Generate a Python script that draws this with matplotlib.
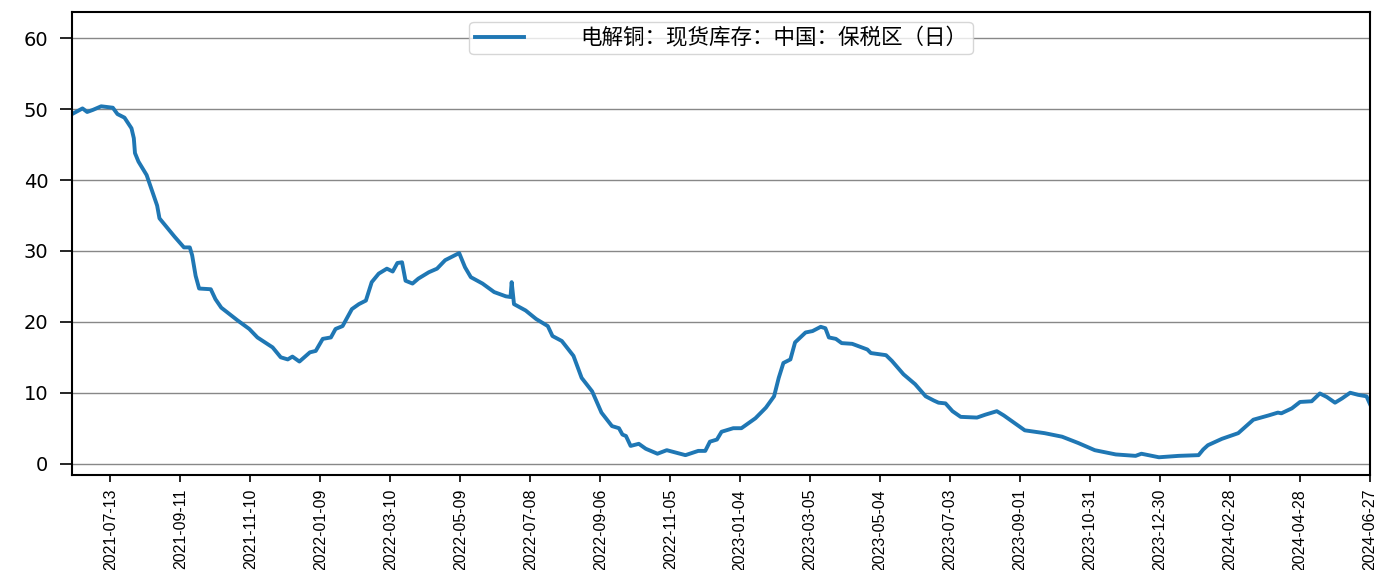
import matplotlib
matplotlib.use("Agg")
import matplotlib.pyplot as plt
from matplotlib import font_manager
import pandas as pd

series_name = "电解铜：现货库存：中国：保税区（日）"

dates = [
    "2021-06-10", "2021-06-19", "2021-06-23", "2021-06-28", "2021-07-05", "2021-07-15",
    "2021-07-19", "2021-07-25", "2021-07-31", "2021-08-02", "2021-08-03", "2021-08-06",
    "2021-08-13", "2021-08-17", "2021-08-22", "2021-08-24", "2021-08-29", "2021-09-06",
    "2021-09-14", "2021-09-19", "2021-09-21", "2021-09-24", "2021-09-27", "2021-10-07",
    "2021-10-11", "2021-10-16", "2021-10-30", "2021-11-09", "2021-11-16", "2021-11-29",
    "2021-12-06", "2021-12-12", "2021-12-16", "2021-12-22", "2021-12-31", "2022-01-05",
    "2022-01-11", "2022-01-18", "2022-01-22", "2022-01-28", "2022-02-05", "2022-02-11",
    "2022-02-17", "2022-02-22", "2022-02-28", "2022-03-07", "2022-03-12", "2022-03-16",
    "2022-03-20", "2022-03-23", "2022-03-29", "2022-04-03", "2022-04-12", "2022-04-19",
    "2022-04-26", "2022-05-08", "2022-05-13", "2022-05-18", "2022-05-28", "2022-06-07",
    "2022-06-17", "2022-06-21", "2022-06-22", "2022-06-24", "2022-07-04", "2022-07-13",
    "2022-07-23", "2022-07-27", "2022-08-04", "2022-08-14", "2022-08-21", "2022-08-30",
    "2022-09-07", "2022-09-16", "2022-09-22", "2022-09-25", "2022-09-28", "2022-10-02",
    "2022-10-09", "2022-10-15", "2022-10-25", "2022-11-02", "2022-11-18", "2022-11-29",
    "2022-12-05", "2022-12-09", "2022-12-15", "2022-12-19", "2022-12-29", "2023-01-05",
    "2023-01-17", "2023-01-26", "2023-02-02", "2023-02-06", "2023-02-10", "2023-02-16",
    "2023-02-20", "2023-03-01", "2023-03-07", "2023-03-14", "2023-03-18", "2023-03-21",
    "2023-03-27", "2023-04-01", "2023-04-10", "2023-04-23", "2023-04-26", "2023-05-09",
    "2023-05-14", "2023-05-24", "2023-06-03", "2023-06-12", "2023-06-19", "2023-06-23",
    "2023-06-29", "2023-07-05", "2023-07-12", "2023-07-26", "2023-08-02", "2023-08-12",
    "2023-08-18", "2023-08-24", "2023-09-05", "2023-09-22", "2023-10-07", "2023-10-21",
    "2023-11-04", "2023-11-22", "2023-12-09", "2023-12-14", "2023-12-29", "2024-01-15",
    "2024-02-01", "2024-02-05", "2024-02-09", "2024-02-21", "2024-03-06", "2024-03-19",
    "2024-04-01", "2024-04-09", "2024-04-12", "2024-04-21", "2024-04-28", "2024-05-08",
    "2024-05-15", "2024-05-21", "2024-05-28", "2024-06-03", "2024-06-10", "2024-06-17",
    "2024-06-24", "2024-06-27",
]

values = [
    49.3, 50.1, 49.6, 49.9, 50.4, 50.2,
    49.3, 48.8, 47.3, 45.9, 43.8, 42.6,
    40.7, 38.8, 36.4, 34.6, 33.6, 32.0,
    30.5, 30.5, 29.4, 26.5, 24.7, 24.6,
    23.2, 22.0, 20.2, 19.0, 17.8, 16.4,
    15.0, 14.7, 15.1, 14.4, 15.7, 15.9,
    17.6, 17.8, 19.0, 19.4, 21.8, 22.5,
    23.0, 25.6, 26.8, 27.5, 27.1, 28.3,
    28.4, 25.8, 25.4, 26.1, 27.0, 27.5,
    28.7, 29.7, 27.7, 26.3, 25.4, 24.2,
    23.6, 23.5, 25.6, 22.5, 21.6, 20.4,
    19.4, 18.0, 17.3, 15.2, 12.1, 10.2,
    7.2, 5.3, 5.0, 4.1, 3.9, 2.5,
    2.8, 2.1, 1.4, 1.9, 1.2, 1.8,
    1.8, 3.1, 3.4, 4.5, 5.0, 5.0,
    6.4, 7.9, 9.5, 12.1, 14.2, 14.7,
    17.1, 18.5, 18.7, 19.3, 19.1, 17.8,
    17.6, 17.0, 16.9, 16.1, 15.6, 15.3,
    14.5, 12.6, 11.2, 9.5, 8.9, 8.6,
    8.5, 7.4, 6.6, 6.5, 6.9, 7.4,
    6.8, 6.1, 4.7, 4.3, 3.8, 2.9,
    1.9, 1.3, 1.1, 1.4, 0.9, 1.1,
    1.2, 2.0, 2.6, 3.5, 4.3, 6.2,
    6.8, 7.2, 7.1, 7.8, 8.7, 8.8,
    9.9, 9.4, 8.6, 9.2, 10.0, 9.7,
    9.5, 8.4,
]

tick_labels = [
    "2021-07-13", "2021-09-11", "2021-11-10", "2022-01-09", "2022-03-10",
    "2022-05-09", "2022-07-08", "2022-09-06", "2022-11-05", "2023-01-04",
    "2023-03-05", "2023-05-04", "2023-07-03", "2023-09-01", "2023-10-31",
    "2023-12-30", "2024-02-28", "2024-04-28", "2024-06-27",
]
y_ticks = [0, 10, 20, 30, 40, 50, 60]

installed = {f.name for f in font_manager.fontManager.ttflist}
if "Liberation Sans Narrow" in installed:
    xfont, xsize = "Liberation Sans Narrow", 14
else:
    xfont, xsize = "Liberation Sans", 11.5

plt.rcParams['font.family'] = ['Noto Sans CJK SC', 'DejaVu Sans']

x = pd.to_datetime(dates)
fig = plt.figure(figsize=(13.82, 5.70), dpi=100)
ax = fig.add_axes([72 / 1382, 1 - 475 / 570, (1370 - 72) / 1382, (475 - 12) / 570])

ax.plot(x, values, color="#1f77b4", linewidth=2.8, label=series_name)

ax.set_xlim(x[0], x[-1])
ax.set_ylim(-1.6, 63.7)
ax.set_yticks(y_ticks)
ax.set_yticklabels([str(v) for v in y_ticks], family="DejaVu Sans", fontsize=14)
tick_pos = pd.to_datetime(tick_labels)
ax.set_xticks(tick_pos)
ax.set_xticklabels(tick_labels, rotation=90, family=xfont, fontsize=xsize)
ax.yaxis.grid(True, color="#888888", linewidth=1.0)
ax.set_axisbelow(True)
ax.tick_params(axis="both", direction="out", length=5, width=1.2, colors="black")
ax.tick_params(axis="x", pad=5)
ax.tick_params(axis="y", length=9, pad=8)
for s in ax.spines.values():
    s.set_linewidth(1.5)
    s.set_color("black")

leg = ax.legend(loc="upper center", frameon=True,
                borderaxespad=0.45, handlelength=2.3, handletextpad=2.6,
                borderpad=0.25,
                prop={'family': ['Noto Sans CJK SC', 'DejaVu Sans'], 'size': 15.5})

fig.savefig("out.png", dpi=100)
